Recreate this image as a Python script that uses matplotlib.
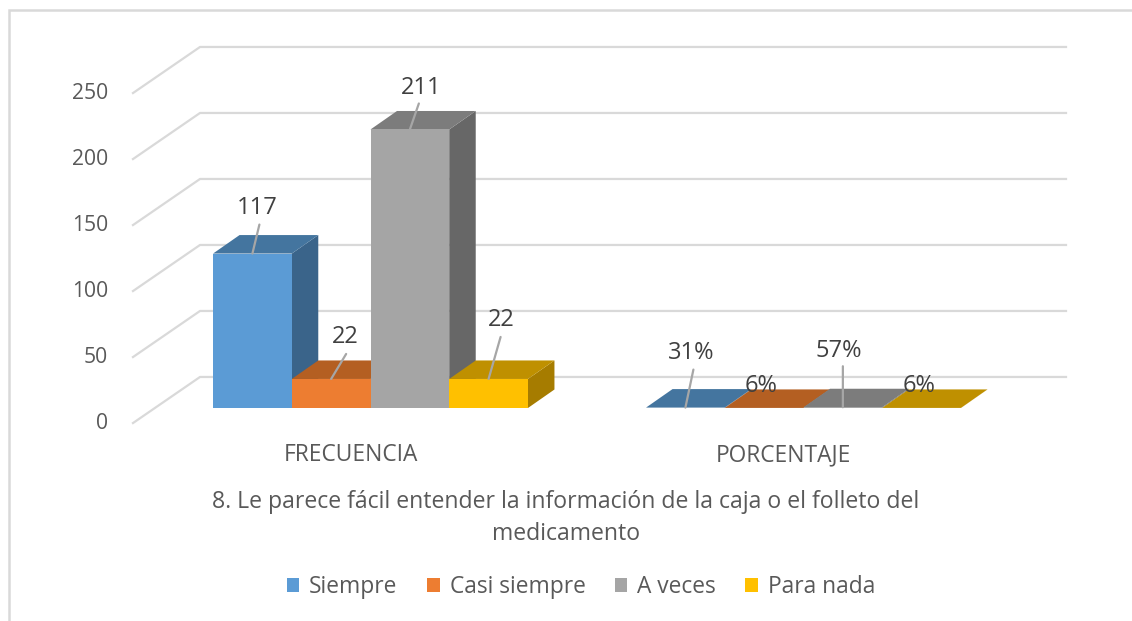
import numpy as np
import matplotlib.pyplot as plt
from matplotlib.patches import Polygon, Patch

categories = ['FRECUENCIA', 'PORCENTAJE']
series = ['Siempre', 'Casi siempre', 'A veces', 'Para nada']
frecuencia = [117, 22, 211, 22]
porcentaje = [0.31, 0.06, 0.57, 0.06]
y_ticks = [0, 50, 100, 150, 200, 250]
titulo = '8. Le parece fácil entender la información de la caja o el folleto del\nmedicamento'

front_cols = ['#5B9BD5', '#ED7D31', '#A5A5A5', '#FFC000']
top_cols = ['#44759F', '#B45F22', '#7C7C7C', '#BF9000']
side_cols = ['#3A648A', '#9C5220', '#676767', '#A67C00']

W, H = 1132, 621
# one category = 433px, one unit = 1.32px, value 0 of the bars sits at y=408
px_x = 433.0
px_y = 1.32
x0_px, y0_px = 370.5, 408.0

plt.rcParams['font.family'] = ['Open Sans', 'DejaVu Sans']
fig = plt.figure(figsize=(W/100, H/100), dpi=100)
ax = fig.add_axes([0, 0, 1, 1])
ax.set_xlim(-x0_px/px_x, (W-x0_px)/px_x)
ax.set_ylim((y0_px-H)/px_y, y0_px/px_y)
ax.axis('off')

def X(p):
    return (p-x0_px)/px_x

def Y(p):
    return (y0_px-p)/px_y

# outer frame of the chart
ax.plot([X(9), X(9), X(W)], [Y(H), Y(10), Y(10)], color='#D9D9D9', lw=1.8, solid_joinstyle='miter')

# walls: back gridlines + diagonal on the side wall
for g in y_ticks:
    ax.plot([X(133), X(200), X(1066)],
            [g-11.4, g+23.5, g+23.5], color='#D9D9D9', lw=1.6, zorder=1)
    ax.text(X(108), g-11.7, str(g), ha='right', va='center', fontsize=15.2, color='#595959')

bw = 1/5.5
ddx = 26.5/px_x
ddy = 18.5/px_y

def bar3d(x, v, i):
    top = [(x, v), (x+bw, v), (x+bw+ddx, v+ddy), (x+ddx, v+ddy)]
    side = [(x+bw, 0), (x+bw+ddx, ddy), (x+bw+ddx, v+ddy), (x+bw, v)]
    front = [(x, 0), (x+bw, 0), (x+bw, v), (x, v)]
    ax.add_patch(Polygon(side, fc=side_cols[i], ec='none', zorder=3))
    ax.add_patch(Polygon(top, fc=top_cols[i], ec='none', zorder=3))
    ax.add_patch(Polygon(front, fc=front_cols[i], ec='none', zorder=3))

groups = [frecuencia, porcentaje]
for c, vals in enumerate(groups):
    for i, v in enumerate(vals):
        bar3d(c-2*bw+i*bw, v, i)

# leader line end and label position, offset from top of the bar in px
line_off = [[(7, 29), (15, 25), (9, 26), (12, 42)],
            [(8, 38), None, (0, 41), None]]
text_off = [[(5, 46), (14, 42), (11, 41), (13, 59)],
            [(6, 55), (-3, 22), (-4, 56), (-3, 22)]]
labels = [[str(v) for v in frecuencia], ['%d%%' % round(v*100) for v in porcentaje]]
for c, vals in enumerate(groups):
    for i, v in enumerate(vals):
        cx = c-2*bw+(i+0.5)*bw
        if line_off[c][i] is not None:
            ax.annotate('', xy=(cx, v), xytext=line_off[c][i], textcoords='offset pixels',
                        arrowprops=dict(arrowstyle='-', color='#A6A6A6', lw=1.6, shrinkA=0, shrinkB=0),
                        zorder=5)
        ax.annotate(labels[c][i], xy=(cx, v), xytext=text_off[c][i], textcoords='offset pixels',
                    ha='center', va='center', fontsize=17, color='#404040', zorder=6)

for c, name in enumerate(categories):
    ax.text(c-20/px_x, Y(455), name, ha='center', va='center', fontsize=16.4, color='#595959')

ax.text(X(566), Y(518), titulo, ha='center', va='center', fontsize=16.6, color='#595959',
        linespacing=1.42)

handles = [Patch(fc=col, ec='none', label=s) for col, s in zip(front_cols, series)]
leg = ax.legend(handles=handles, ncols=4, loc='center', frameon=False,
                bbox_to_anchor=(581/W, 1-587/H), fontsize=16.4, labelcolor='#595959',
                handlelength=0.56, handleheight=0.56, handletextpad=0.44, columnspacing=1.28)

fig.savefig('out.png', dpi=100)
